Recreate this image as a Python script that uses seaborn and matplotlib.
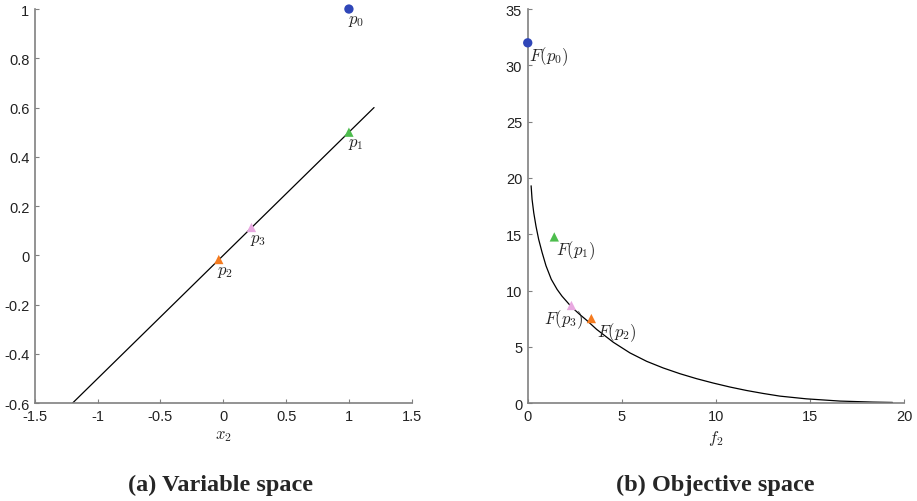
import numpy as np
import pandas as pd
import seaborn as sns
import matplotlib.pyplot as plt

# ---- data ----
# variable space
line_x = [-1.2, 1.2]
line_y = [-0.6, 0.6]
pts_names = ['p0', 'p1', 'p2', 'p3']
pts_x = [1.0, 1.0, -0.036, 0.224]
pts_y = [1.0, 0.5, -0.017, 0.113]

# objective space (front)
front_f2 = [0.18, 0.23, 0.32, 0.44, 0.58, 0.76, 0.97, 1.25, 1.56, 1.82, 2.32,
            2.78, 3.13, 3.66, 4.55, 5.43, 6.32, 7.2, 8.09, 8.97, 9.86, 10.74,
            11.63, 12.5, 13.4, 14.8, 16.6, 18.35, 19.38]
front_f1 = [19.3, 18.1, 16.9, 15.7, 14.55, 13.4, 12.2, 11.0, 10.1, 9.5, 8.55,
            7.85, 7.36, 6.55, 5.4, 4.46, 3.71, 3.12, 2.61, 2.17, 1.78, 1.43,
            1.12, 0.86, 0.62, 0.38, 0.18, 0.09, 0.06]
obj_x = [0.0, 1.41, 3.38, 2.32]
obj_y = [32.0, 14.76, 7.51, 8.67]

colors = ['#2f46b8', '#4dbd4d', '#f47b20', '#e8a8e0']
markers = ['o', '^', '^', '^']

sns.set_style('ticks')
plt.rcParams['font.family'] = ['Liberation Sans', 'DejaVu Sans']
plt.rcParams['mathtext.fontset'] = 'cm'

fig = plt.figure(figsize=(9.17, 5.02), dpi=100)
ax1 = fig.add_axes([0.038, 0.195, 0.411, 0.785])
ax2 = fig.add_axes([0.5755, 0.195, 0.4105, 0.785])

df_line = pd.DataFrame({'x': line_x, 'y': line_y})
sns.lineplot(data=df_line, x='x', y='y', color='black', lw=0.9, ax=ax1)

df_front = pd.DataFrame({'f2': front_f2, 'f1': front_f1})
sns.lineplot(data=df_front, x='f2', y='f1', sort=False, color='black', lw=0.9, ax=ax2)

for i in range(4):
    sns.scatterplot(x=[pts_x[i]], y=[pts_y[i]], color=colors[i], marker=markers[i],
                    s=45, edgecolor='none', ax=ax1, zorder=5, clip_on=False)
    sns.scatterplot(x=[obj_x[i]], y=[obj_y[i]], color=colors[i], marker=markers[i],
                    s=45, edgecolor='none', ax=ax2, zorder=5, clip_on=False)

# point labels
for i, n in enumerate(pts_names):
    ax1.annotate(r'$p_{%s}$' % n[1], (pts_x[i], pts_y[i]), xytext=(-1, -3),
                 textcoords='offset points', ha='left', va='top', fontsize=12)

obj_off = [(1, -1), (1, -1), (4, -1), (-20, -1)]
for i, n in enumerate(pts_names):
    ax2.annotate(r'$F(p_{%s})$' % n[1], (obj_x[i], obj_y[i]), xytext=obj_off[i],
                 textcoords='offset points', ha='left', va='top', fontsize=12)

ax1.set_xlim(-1.5, 1.5)
ax1.set_ylim(-0.6, 1)
ax1.set_xticks([-1.5, -1, -0.5, 0, 0.5, 1, 1.5])
ax1.set_xticklabels(['-1.5', '-1', '-0.5', '0', '0.5', '1', '1.5'])
ax1.set_yticks([-0.6, -0.4, -0.2, 0, 0.2, 0.4, 0.6, 0.8, 1])
ax1.set_yticklabels(['-0.6', '-0.4', '-0.2', '0', '0.2', '0.4', '0.6', '0.8', '1'])
ax1.set_xlabel(r'$x_2$', fontsize=12, labelpad=4)
ax1.set_ylabel('')

ax2.set_xlim(0, 20)
ax2.set_ylim(0, 35)
ax2.set_xticks([0, 5, 10, 15, 20])
ax2.set_yticks([0, 5, 10, 15, 20, 25, 30, 35])
ax2.set_xlabel(r'$f_2$', fontsize=12, labelpad=4)
ax2.set_ylabel('')

for ax in (ax1, ax2):
    sns.despine(ax=ax)
    for s in ('left', 'bottom'):
        ax.spines[s].set_color('#808080')
        ax.spines[s].set_linewidth(1.2)
    ax.tick_params(direction='in', length=3, width=0.8, color='#808080',
                   labelsize=10.5, labelcolor='#222222', pad=4)

fig.text(0.241, 0.033, '(a) Variable space', ha='center', va='center',
         fontsize=17.5, fontweight='bold', family='Liberation Serif')
fig.text(0.78, 0.033, '(b) Objective space', ha='center', va='center',
         fontsize=17.5, fontweight='bold', family='Liberation Serif')

fig.savefig('out.png', dpi=100)
